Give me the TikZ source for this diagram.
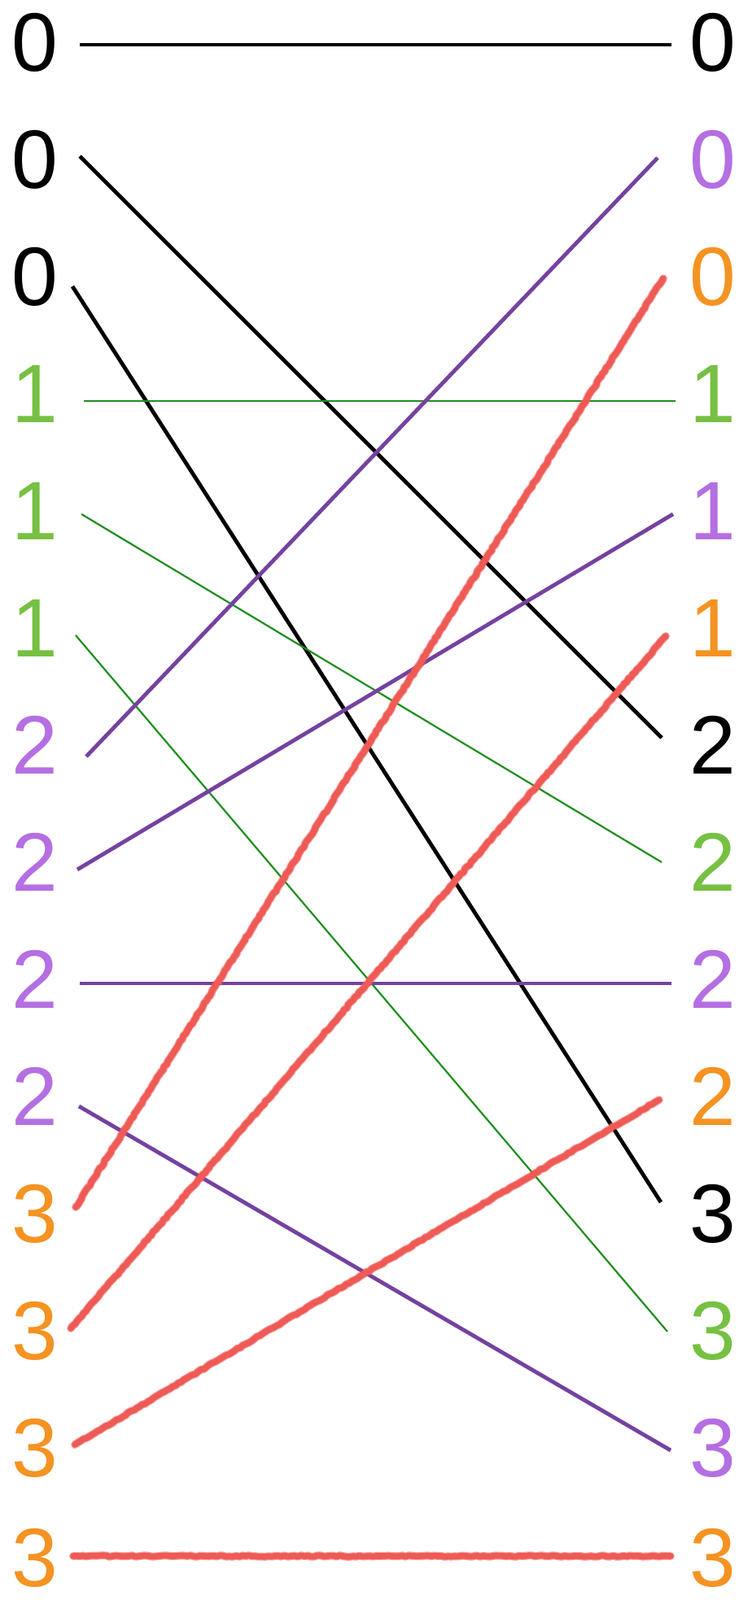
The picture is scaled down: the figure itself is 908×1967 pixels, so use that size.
\documentclass[tikz,border=0pt]{standalone}
\usepackage{fontspec}
\setmainfont{Liberation Sans}
\usepackage{tikz}
\usetikzlibrary{decorations.pathmorphing}
\definecolor{lilac}{HTML}{B46FE2}
\definecolor{grape}{HTML}{7442A0}
\definecolor{leaf}{HTML}{76C043}
\definecolor{forest}{HTML}{1F8F1F}
\definecolor{amber}{HTML}{F59322}
\definecolor{coral}{HTML}{EE5A55}
\tikzset{
  % ziffern
  dig/.style={inner sep=0pt,font=\fontsize{51}{51}\selectfont},
  % linien
  blk/.style={draw=black,line width=2.4pt},
  grn/.style={draw=forest,line width=1.1pt},
  prp/.style={draw=grape,line width=2.4pt},
  chalk/.style={draw=coral,line width=3.8pt,line cap=round,line join=round,
    decorate,decoration={random steps,segment length=2pt,amplitude=.4pt},
    preaction={draw=coral,line width=5pt,opacity=.5,line cap=round,
      line join=round,decorate,
      decoration={random steps,segment length=2.5pt,amplitude=.6pt}}},
}
\begin{document}
\begin{tikzpicture}[x=0.5pt,y=-0.5pt]
\useasboundingbox (0,0) rectangle (908,1967);
  % links
  \node[dig] (l0) at (43,52) {0};
  \node[dig] (l1) at (43,196) {0};
  \node[dig] (l2) at (43,340) {0};
  \node[dig,text=leaf] (l3) at (43,484) {1};
  \node[dig,text=leaf] (l4) at (43,628) {1};
  \node[dig,text=leaf] (l5) at (43,772) {1};
  \node[dig,text=lilac] (l6) at (43,916) {2};
  \node[dig,text=lilac] (l7) at (43,1060) {2};
  \node[dig,text=lilac] (l8) at (43,1204) {2};
  \node[dig,text=lilac] (l9) at (43,1348) {2};
  \node[dig,text=amber] (l10) at (43,1492) {3};
  \node[dig,text=amber] (l11) at (43,1636) {3};
  \node[dig,text=amber] (l12) at (43,1780) {3};
  \node[dig,text=amber] (l13) at (43,1915) {3};
  % rechts
  \node[dig] (r0) at (876,52) {0};
  \node[dig,text=lilac] (r1) at (876,196) {0};
  \node[dig,text=amber] (r2) at (876,340) {0};
  \node[dig,text=leaf] (r3) at (876,484) {1};
  \node[dig,text=lilac] (r4) at (876,628) {1};
  \node[dig,text=amber] (r5) at (876,772) {1};
  \node[dig] (r6) at (876,916) {2};
  \node[dig,text=leaf] (r7) at (876,1060) {2};
  \node[dig,text=lilac] (r8) at (876,1204) {2};
  \node[dig,text=amber] (r9) at (876,1348) {2};
  \node[dig] (r10) at (876,1492) {3};
  \node[dig,text=leaf] (r11) at (876,1636) {3};
  \node[dig,text=lilac] (r12) at (876,1780) {3};
  \node[dig,text=amber] (r13) at (876,1915) {3};
  % linienenden
  \coordinate (a0) at (98,55);    \coordinate (b0) at (825,55);
  \coordinate (a1) at (98,192);   \coordinate (b6) at (813,907);
  \coordinate (a2) at (89,352);   \coordinate (b10) at (812,1478);
  \coordinate (a3) at (103,493);  \coordinate (b3) at (830,493);
  \coordinate (a4) at (100,632);  \coordinate (b7) at (813,1060);
  \coordinate (a5) at (93,781);   \coordinate (b11) at (820,1637);
  \coordinate (a6) at (106,930);  \coordinate (b1) at (808,194);
  \coordinate (a7) at (95,1069);  \coordinate (b4) at (827,632);
  \coordinate (a8) at (98,1209);  \coordinate (b8) at (825,1209);
  \coordinate (a9) at (97,1360);  \coordinate (b12) at (824,1783);
  \coordinate (a10) at (93,1484); \coordinate (b2) at (815,342);
  \coordinate (a11) at (87,1633); \coordinate (b5) at (818,782);
  \coordinate (a12) at (92,1776); \coordinate (b9) at (810,1352);
  \coordinate (a13) at (90,1913); \coordinate (b13) at (824,1913);
  \draw[blk] (a0) -- (b0);
  \draw[blk] (a1) -- (b6);
  \draw[blk] (a2) -- (b10);
  \draw[grn] (a3) -- (b3);
  \draw[grn] (a4) -- (b7);
  \draw[grn] (a5) -- (b11);
  \draw[prp] (a6) -- (b1);
  \draw[prp] (a7) -- (b4);
  \draw[prp] (a8) -- (b8);
  \draw[prp] (a9) -- (b12);
  \draw[chalk] (a10) -- (b2);
  \draw[chalk] (a11) -- (b5);
  \draw[chalk] (a12) -- (b9);
  \draw[chalk] (a13) -- (b13);
\end{tikzpicture}
\end{document}
